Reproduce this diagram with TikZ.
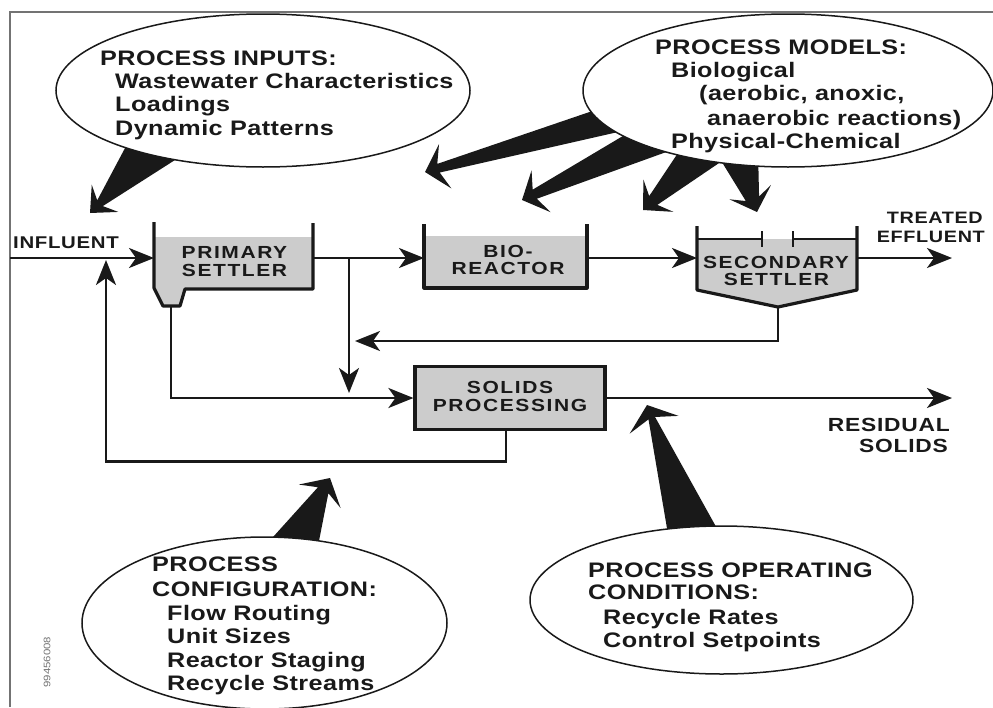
\documentclass[tikz,border=0pt]{standalone}
\usepackage{fontspec}
\usetikzlibrary{shapes.geometric,arrows.meta,calc}
\newfontfamily\ellfont{Liberation Sans}[FakeStretch=1.2,LetterSpace=2]
\newfontfamily\boxfont{Liberation Sans}[FakeStretch=1.2,LetterSpace=9]
\newfontfamily\tagfont{Liberation Sans}[FakeStretch=1.2,LetterSpace=4]
\newfontfamily\idfont{Liberation Sans}[FakeStretch=1.2]
\definecolor{ink}{gray}{0.1}
\definecolor{tank}{gray}{0.80}
\definecolor{framec}{gray}{0.45}
% big wedge arrow: #1 base (left side facing tip), #2 base, #3 tip, #4 neck half width, #5 head half width
\newcommand{\bigarr}[5]{%
  \coordinate (ba1) at ($(#1)!-8pt!(#3)$);
  \coordinate (ba2) at ($(#2)!-8pt!(#3)$);
  \coordinate (bm) at ($(#1)!0.5!(#2)$);
  \coordinate (bw) at ($(#3)!21pt!(bm)$);
  \coordinate (bn) at ($(#3)!14pt!(bm)$);
  \coordinate (w1) at ($(bw)!#5!90:(#3)$);
  \coordinate (w2) at ($(bw)!#5!-90:(#3)$);
  \coordinate (n1) at ($(bn)!#4!90:(#3)$);
  \coordinate (n2) at ($(bn)!#4!-90:(#3)$);
  \fill[ink] (ba1) -- (n1) -- (w1) -- (#3) -- (w2) -- (n2) -- (ba2) -- cycle;}
\begin{document}
\begin{tikzpicture}[x=1pt,y=-1pt,
  ell/.style={ellipse, draw=ink, line width=1.5pt, fill=white, inner sep=0pt},
  etxt/.style={anchor=base west, inner sep=0pt, text=ink, font=\ellfont\bfseries\fontsize{21}{24}\selectfont},
  btxt/.style={anchor=base, inner sep=0pt, text=ink, font=\boxfont\bfseries\fontsize{17.5}{20}\selectfont},
  tagw/.style={anchor=base west, inner sep=0pt, text=ink, font=\tagfont\bfseries\fontsize{17}{20}\selectfont},
  tage/.style={anchor=base east, inner sep=0pt, text=ink, font=\tagfont\bfseries\fontsize{16.5}{20}\selectfont},
  tagr/.style={anchor=base east, inner sep=0pt, text=ink, font=\tagfont\bfseries\fontsize{19}{22}\selectfont},
  wall/.style={line width=3.2pt, draw=ink, line join=round},
  weir/.style={line width=2.7pt, draw=ink},
  flow/.style={line width=2.4pt, draw=ink, -{Stealth[length=25pt,width=20pt,inset=7pt]}},
  tankbox/.style={draw=ink, line width=3.2pt, fill=tank, inner sep=0pt, minimum width=190pt, minimum height=63pt}]
\useasboundingbox (0,0) rectangle (993,707);
\fill[white] (0,0) rectangle (993,707);
% frame
\draw[framec, line width=1.3pt] (10,707) -- (10,12) -- (993,12);

% big wedge arrows
\bigarr{178,158}{125,148}{90,213}{4pt}{19pt}
\bigarr{613,133}{590,112}{425,172}{4.5pt}{23pt}
\bigarr{663,153}{620,138}{522,200}{5pt}{23pt}
\bigarr{720,162}{677,155}{643,210}{6pt}{22pt}
\bigarr{758,165}{723,163}{757,212}{7pt}{22pt}
\bigarr{277,533}{320,535}{330,478}{6pt}{24pt}
\bigarr{667,528}{715,525}{647,405}{3.5pt}{26pt}

% ellipses
\node[ell, minimum width=414pt, minimum height=153pt] (inputs) at (263,90.5) {};
\node[ell, minimum width=410pt, minimum height=153pt] (models) at (788,90.5) {};
\node[ell, minimum width=365pt, minimum height=172pt] (config) at (264.5,623) {};
\node[ell, minimum width=383pt, minimum height=148pt] (oper) at (721.5,600) {};

% ellipse texts
\node[etxt] (i1) at (100,65) {PROCESS INPUTS:};
\node[etxt] (i2) at (115,88) {Wastewater Characteristics};
\node[etxt] (i3) at (115,111) {Loadings};
\node[etxt] (i4) at (115,135) {Dynamic Patterns};

\node[etxt] (m1) at (655,54) {PROCESS MODELS:};
\node[etxt] (m2) at (671,77) {Biological};
\node[etxt] (m3) at (699,100) {(aerobic, anoxic,};
\node[etxt] (m4) at (707,125) {anaerobic reactions)};
\node[etxt] (m5) at (671,148) {Physical-Chemical};

\node[etxt] (c1) at (152,571) {PROCESS};
\node[etxt] (c2) at (152,596) {CONFIGURATION:};
\node[etxt] (c3) at (167,620) {Flow Routing};
\node[etxt] (c4) at (167,643) {Unit Sizes};
\node[etxt] (c5) at (167,667) {Reactor Staging};
\node[etxt] (c6) at (167,690) {Recycle Streams};

\node[etxt] (o1) at (588,577) {PROCESS OPERATING};
\node[etxt] (o2) at (588,599) {CONDITIONS:};
\node[etxt] (o3) at (603,624) {Recycle Rates};
\node[etxt] (o4) at (603,647) {Control Setpoints};

% primary settler
\fill[tank] (154,237) -- (154,288) -- (163,306) -- (180,306) -- (185,289) -- (313,289) -- (313,237) -- cycle;
\draw[wall] (154,222) -- (154,288) -- (163,306) -- (180,306) -- (185,289) -- (313,289) -- (313,223);
\coordinate (psin) at (154,258);
\coordinate (psout) at (313,258);
\coordinate (psbot) at (171,306);
\node[btxt] (ps1) at (234.5,258) {PRIMARY};
\node[btxt] (ps2) at (234.5,276) {SETTLER};

% bioreactor
\fill[tank] (424,236) rectangle (587,288);
\draw[wall] (424,224) -- (424,288) -- (587,288) -- (587,224);
\coordinate (brin) at (424,258);
\coordinate (brout) at (587,258);
\node[btxt] (br1) at (508,257) {BIO-};
\node[btxt] (br2) at (508,274) {REACTOR};

% secondary settler
\fill[tank] (697,239) -- (697,290) -- (778,307) -- (857,290) -- (857,239) -- cycle;
\draw[wall] (697,226) -- (697,290) -- (778,307) -- (857,290) -- (857,226);
\draw[weir] (697,239) -- (762,239) (762,231) -- (762,247);
\draw[weir] (793,239) -- (857,239) (793,231) -- (793,247);
\coordinate (ssin) at (697,258);
\coordinate (ssout) at (857,258);
\coordinate (ssbot) at (778,307);
\node[btxt] (ss1) at (776,268) {SECONDARY};
\node[btxt] (ss2) at (776.5,285) {SETTLER};

% solids processing
\node[tankbox] (sp) at (510,398) {};
\node[btxt] (sp1) at (510,393) {SOLIDS};
\node[btxt] (sp2) at (510,411) {PROCESSING};

% flow connectors
\coordinate (infl) at (10,258);
\coordinate (jn) at (349,258);
\coordinate (eff) at (952,258);
\coordinate (ras) at (355,341);
\coordinate (res) at (952,398);
\coordinate (retend) at (106,260);
\draw[flow] (infl) -- (psin);
\draw[flow] (psout) -- (brin);
\draw[flow, shorten >=5pt] (jn) -- (jn |- sp.west);
\draw[flow] (brout) -- (ssin);
\draw[flow] (ssout) -- (eff);
\draw[flow] (ssbot) -- (ssbot |- ras) -- (ras);
\draw[flow] (psbot) -- (psbot |- sp.west) -- (sp.west);
\draw[flow] (sp.east) -- (res);
\draw[flow] ([xshift=-4pt]sp.south) -- ++(0,30.5) -| (retend);

% stream labels
\node[tagw] (lin) at (13,248) {INFLUENT};
\node[tage] (lt1) at (983,223) {TREATED};
\node[tage] (lt2) at (985,242) {EFFLUENT};
\node[tagr] (lr1) at (950,431) {RESIDUAL};
\node[tagr] (lr2) at (948,452) {SOLIDS};

% figure id
\node[rotate=90, inner sep=0pt, text=framec, font=\idfont\fontsize{9.5}{11}\selectfont] (fid) at (47,662) {99456008};
\end{tikzpicture}
\end{document}
